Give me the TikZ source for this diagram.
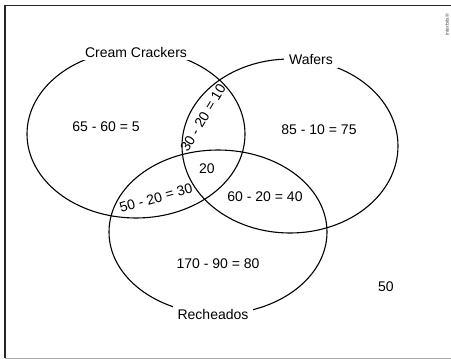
\documentclass[tikz,border=0pt]{standalone}
\usepackage{fontspec}
\setmainfont{Liberation Sans}
\usepackage{tikz}
\usetikzlibrary{positioning}

\begin{document}
\begin{tikzpicture}[x=1pt, y=-1pt, every node/.style={font=\fontsize{14}{16}\selectfont}]
	\useasboundingbox (0,0) rectangle (451,359);
	% frame
	\draw[line width=1.4pt, black!85] (5,358) -- (5,5.5) -- (451,5.5);
	\draw[line width=1pt, black!35] (5,358) -- (451,358);
	% sets
	\coordinate (CC) at (136,134);
	\coordinate (WF) at (290,146);
	\coordinate (RC) at (218,232);
	\draw[line width=1.1pt] (CC) ellipse [x radius=109, y radius=84];
	\draw[line width=1.1pt] (WF) ellipse [x radius=108, y radius=87];
	\draw[line width=1.1pt] (RC) ellipse [x radius=109, y radius=82];
	\node (CCname) at (136,52) [fill=white, inner xsep=5pt] {Cream Crackers};
	\node (WFname) at (311,60) [fill=white, inner xsep=5pt] {Wafers};
	\node (RCname) at (213,314) [fill=white, inner xsep=5pt] {Recheados};
	% regions
	\node (onlyCC) at (106,127) {65 - 60 = 5};
	\node (onlyWF) at (319,130) {85 - 10 = 75};
	\node (onlyRC) at (218,264) {170 - 90 = 80};
	\node (CCWF) at (203,118) [rotate=59, inner sep=0pt] {30 - 20 = 10};
	\node (CCRC) at (156,198) [rotate=15.5, inner sep=0pt] {50 - 20 = 30};
	\node (WFRC) at (265,197) {60 - 20 = 40};
	\node (all) at (207,169) {20};
	\node (none) at (386,287) {50};
	\node (mark) at (447,25) [rotate=90, font=\fontsize{5}{5}\selectfont, text=black!70] {Interbits®};
\end{tikzpicture}
\end{document}
